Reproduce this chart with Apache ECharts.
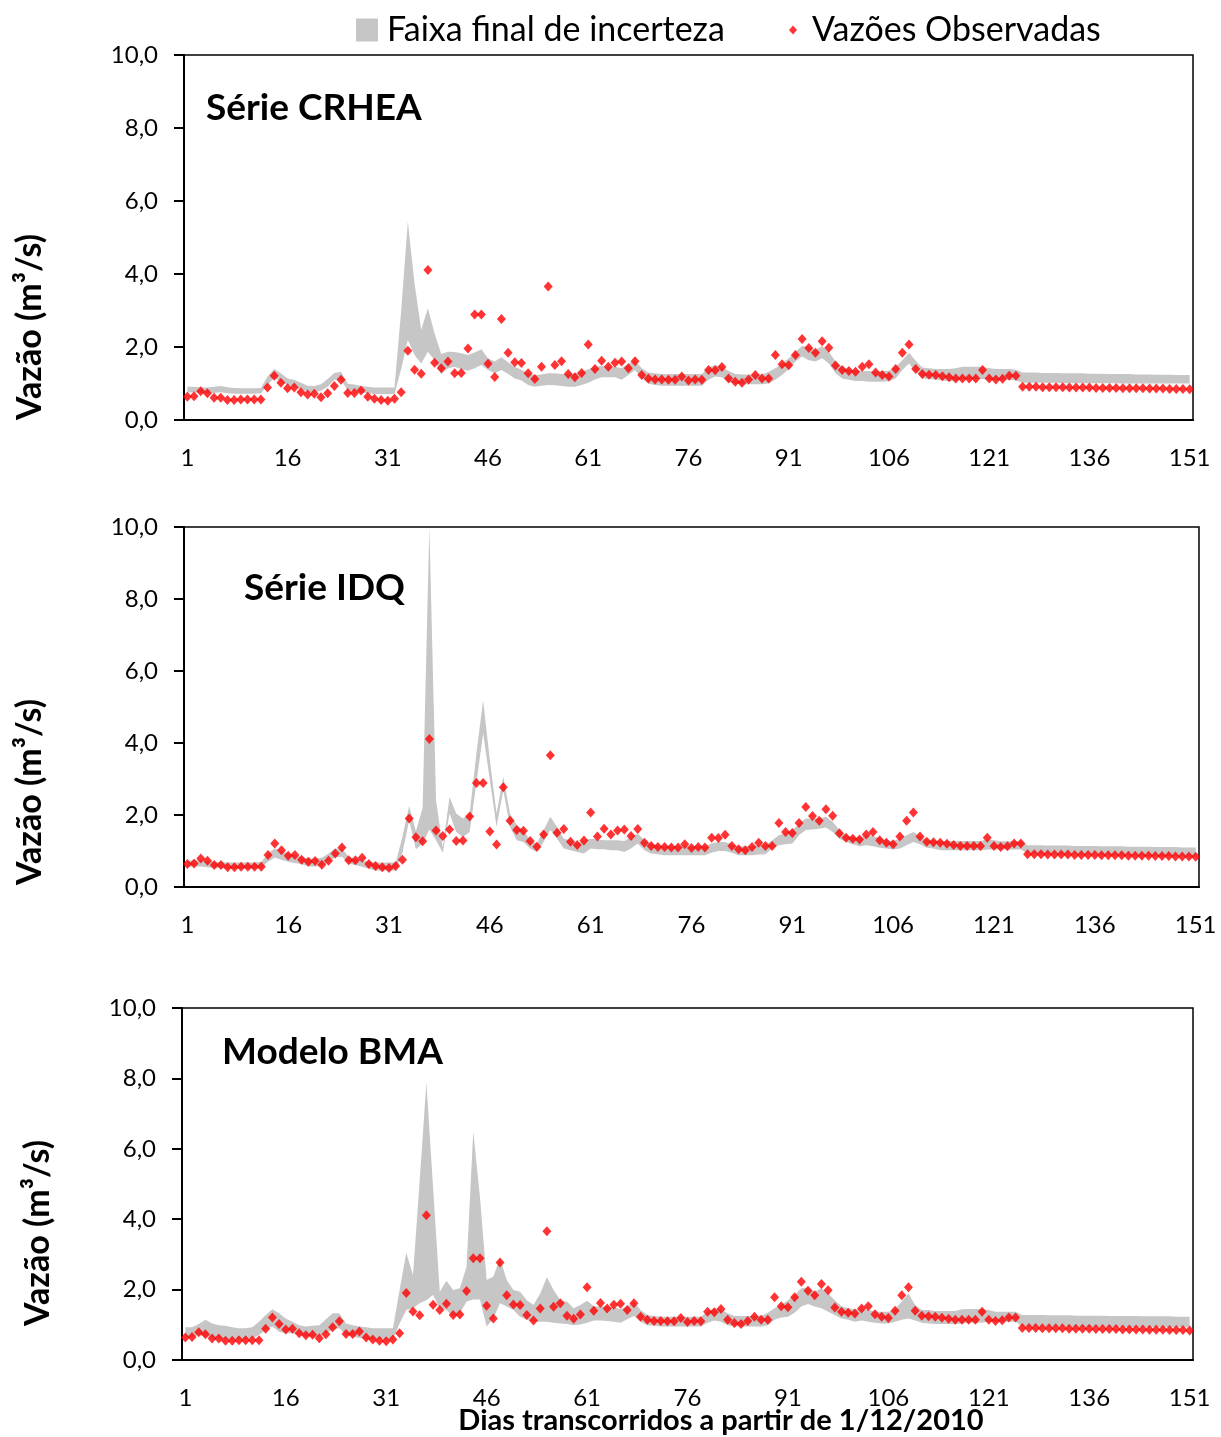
<!DOCTYPE html>
<html><head><meta charset="utf-8">
<script src="https://cdn.jsdelivr.net/npm/echarts@6/dist/echarts.min.js"></script>
<style>html,body{margin:0;padding:0;background:#fff}#c{width:1221px;height:1437px}</style>
</head><body><div id="c"></div>
<script>
// ---------- DATA ----------
const days = Array.from({length: 151}, (_, i) => String(i + 1));

const observed = [
0.64,0.65,0.79,0.73,0.61,0.61,0.55,0.55,0.56,0.56,
0.56,0.56,0.89,1.21,1.02,0.87,0.89,0.76,0.70,0.72,
0.62,0.73,0.93,1.10,0.74,0.74,0.81,0.64,0.58,0.55,
0.53,0.58,0.76,1.90,1.38,1.27,4.11,1.57,1.42,1.60,
1.28,1.29,1.96,2.89,2.89,1.54,1.18,2.77,1.84,1.58,
1.56,1.28,1.12,1.46,3.66,1.51,1.61,1.26,1.17,1.29,
2.07,1.40,1.62,1.46,1.57,1.60,1.42,1.61,1.23,1.14,
1.11,1.11,1.10,1.10,1.19,1.08,1.11,1.10,1.37,1.36,
1.45,1.14,1.05,1.02,1.11,1.23,1.14,1.14,1.78,1.53,
1.50,1.78,2.22,1.97,1.84,2.16,1.98,1.49,1.37,1.34,
1.32,1.46,1.53,1.30,1.23,1.19,1.40,1.84,2.07,1.40,
1.26,1.24,1.23,1.20,1.17,1.14,1.14,1.14,1.14,1.37,
1.14,1.11,1.13,1.21,1.21,0.91,0.91,0.91,0.90,0.90,
0.90,0.90,0.89,0.89,0.89,0.89,0.88,0.88,0.88,0.88,
0.87,0.87,0.87,0.87,0.86,0.86,0.86,0.85,0.85,0.85,0.84];

const crheaUpper = [
0.91,0.91,0.89,0.89,0.91,0.93,0.90,0.88,0.87,0.87,
0.87,0.88,1.19,1.40,1.28,1.14,1.10,1.02,0.94,0.93,
0.98,1.12,1.29,1.32,0.99,0.97,0.93,0.91,0.89,0.89,
0.89,0.89,3.00,5.43,3.74,2.47,3.06,2.37,1.81,1.87,
1.86,1.83,1.78,1.85,1.94,1.69,1.60,1.72,1.58,1.46,
1.38,1.28,1.23,1.25,1.28,1.28,1.26,1.25,1.28,1.32,
1.39,1.46,1.48,1.46,1.46,1.42,1.55,1.64,1.42,1.30,
1.28,1.26,1.26,1.26,1.26,1.26,1.26,1.26,1.44,1.51,
1.46,1.34,1.26,1.25,1.25,1.25,1.25,1.32,1.42,1.55,
1.69,1.87,2.03,2.01,1.92,2.03,1.86,1.61,1.46,1.39,
1.36,1.34,1.34,1.32,1.34,1.35,1.46,1.64,1.84,1.62,
1.44,1.42,1.40,1.40,1.40,1.42,1.46,1.46,1.46,1.46,
1.42,1.40,1.40,1.40,1.38,1.30,1.30,1.30,1.29,1.29,
1.29,1.28,1.28,1.28,1.28,1.27,1.27,1.27,1.26,1.26,
1.26,1.26,1.25,1.25,1.25,1.24,1.24,1.24,1.23,1.23,1.23];

const crheaLower = [
0.75,0.76,0.74,0.73,0.74,0.76,0.73,0.72,0.72,0.72,
0.72,0.73,0.96,1.16,1.05,0.96,0.91,0.84,0.78,0.75,
0.80,0.91,1.10,1.10,0.81,0.80,0.75,0.73,0.71,0.71,
0.71,0.71,1.40,2.19,1.78,1.55,1.87,1.64,1.26,1.42,
1.46,1.39,1.35,1.42,1.51,1.37,1.28,1.37,1.26,1.14,
1.08,0.96,0.91,0.94,0.96,0.95,0.93,0.91,0.91,0.96,
1.02,1.11,1.17,1.17,1.17,1.10,1.23,1.37,1.14,0.99,
0.96,0.94,0.94,0.94,0.94,0.94,0.94,0.94,1.10,1.19,
1.17,1.04,0.99,0.98,0.98,0.98,0.98,1.00,1.10,1.23,
1.39,1.60,1.74,1.64,1.60,1.69,1.55,1.28,1.14,1.10,
1.07,1.07,1.05,1.05,1.05,1.06,1.14,1.37,1.55,1.32,
1.14,1.12,1.10,1.08,1.07,1.07,1.12,1.12,1.12,1.12,
1.10,1.10,1.10,1.10,1.08,1.02,1.02,1.02,1.02,1.02,
1.02,1.01,1.01,1.01,1.01,1.01,1.01,1.01,1.01,1.01,
1.00,1.00,1.00,1.00,1.00,1.00,1.00,1.00,1.00,1.00,1.00];

const idqUpper = [
0.72,0.74,0.74,0.72,0.70,0.69,0.68,0.68,0.68,0.68,
0.68,0.70,0.93,1.07,1.00,0.93,0.88,0.84,0.79,0.79,
0.81,0.93,1.07,1.07,0.84,0.79,0.74,0.70,0.68,0.68,
0.68,0.68,1.40,2.25,1.55,2.20,10.0,2.40,1.10,2.50,
2.04,1.90,2.04,3.71,5.19,3.53,2.04,3.06,2.04,1.72,
1.58,1.30,1.21,1.58,1.95,1.67,1.34,1.30,1.21,1.30,
1.34,1.32,1.30,1.30,1.30,1.28,1.39,1.48,1.30,1.21,
1.16,1.13,1.13,1.13,1.13,1.13,1.13,1.13,1.21,1.25,
1.25,1.19,1.13,1.13,1.13,1.16,1.16,1.30,1.44,1.50,
1.58,1.76,1.90,1.90,1.90,1.95,1.81,1.58,1.44,1.39,
1.37,1.44,1.41,1.36,1.30,1.28,1.35,1.44,1.53,1.41,
1.32,1.30,1.28,1.28,1.28,1.28,1.28,1.28,1.28,1.32,
1.30,1.27,1.27,1.27,1.27,1.16,1.16,1.16,1.15,1.15,
1.15,1.15,1.14,1.14,1.14,1.14,1.13,1.13,1.13,1.13,
1.12,1.12,1.12,1.12,1.11,1.11,1.11,1.11,1.10,1.10,1.10];

const idqLower = [
0.55,0.57,0.57,0.55,0.53,0.52,0.51,0.51,0.51,0.51,
0.51,0.53,0.70,0.82,0.76,0.70,0.67,0.63,0.57,0.57,
0.59,0.70,0.82,0.84,0.65,0.61,0.56,0.51,0.46,0.46,
0.46,0.46,0.95,1.85,1.05,1.20,1.60,1.30,0.95,2.04,
1.53,1.39,1.53,2.88,4.27,2.97,1.67,2.69,1.67,1.30,
1.25,1.07,0.97,1.25,1.58,1.34,1.07,1.02,0.97,0.93,
1.07,1.05,1.05,1.02,1.02,0.97,1.07,1.21,1.02,0.93,
0.91,0.88,0.88,0.88,0.88,0.88,0.88,0.88,0.95,1.00,
1.00,0.95,0.88,0.88,0.88,0.90,0.91,1.07,1.16,1.19,
1.21,1.44,1.58,1.60,1.62,1.65,1.53,1.34,1.25,1.19,
1.13,1.16,1.13,1.09,1.07,1.04,1.07,1.16,1.25,1.19,
1.09,1.07,1.02,1.02,1.02,1.02,1.02,1.02,1.02,1.04,
1.04,1.04,1.04,1.04,1.04,0.93,0.93,0.92,0.92,0.92,
0.91,0.91,0.91,0.90,0.90,0.90,0.89,0.89,0.89,0.88,
0.88,0.88,0.87,0.87,0.87,0.86,0.86,0.86,0.86,0.85,0.85];

const bmaUpper = [
0.93,0.93,1.02,1.14,1.04,0.99,0.97,0.93,0.90,0.90,
0.93,1.09,1.28,1.44,1.33,1.18,1.09,0.99,0.95,0.97,
0.99,1.16,1.33,1.33,1.04,0.99,0.95,0.93,0.90,0.90,
0.90,0.90,1.99,3.05,2.41,5.10,7.88,4.90,1.94,2.25,
1.99,2.04,2.65,6.49,4.64,2.27,2.37,2.89,2.27,1.99,
1.94,1.70,1.56,1.89,2.35,1.99,1.70,1.66,1.47,1.56,
1.68,1.53,1.52,1.52,1.50,1.44,1.53,1.66,1.42,1.28,
1.25,1.23,1.23,1.23,1.23,1.23,1.23,1.23,1.37,1.47,
1.44,1.33,1.25,1.25,1.25,1.25,1.25,1.34,1.47,1.56,
1.70,1.85,2.04,2.06,1.94,2.04,1.89,1.70,1.53,1.47,
1.44,1.44,1.42,1.37,1.37,1.37,1.44,1.66,1.89,1.56,
1.42,1.42,1.39,1.39,1.39,1.39,1.44,1.45,1.45,1.45,
1.42,1.37,1.37,1.37,1.37,1.28,1.28,1.28,1.28,1.27,
1.27,1.27,1.27,1.26,1.26,1.26,1.26,1.26,1.25,1.25,
1.25,1.25,1.25,1.24,1.24,1.24,1.24,1.24,1.23,1.23,1.23];

const bmaLower = [
0.66,0.66,0.71,0.66,0.63,0.62,0.59,0.59,0.59,0.59,
0.62,0.71,0.85,0.95,0.80,0.76,0.76,0.71,0.66,0.66,
0.66,0.76,0.87,0.90,0.71,0.66,0.63,0.59,0.59,0.59,
0.59,0.59,1.04,1.42,1.47,1.61,1.70,1.85,1.47,1.42,
1.23,1.33,1.66,1.72,1.72,0.95,1.18,1.61,1.52,1.42,
1.23,1.14,1.09,1.09,1.09,1.06,1.04,1.02,0.99,1.01,
1.06,1.12,1.12,1.11,1.09,1.06,1.16,1.25,1.09,0.99,
0.97,0.95,0.95,0.95,0.95,0.95,0.95,0.95,1.06,1.12,
1.09,0.99,0.95,0.95,0.95,0.95,0.95,0.99,1.14,1.21,
1.23,1.34,1.52,1.59,1.52,1.47,1.37,1.28,1.18,1.14,
1.09,1.12,1.09,1.06,1.04,1.04,1.09,1.14,1.18,1.12,
1.06,1.04,1.02,1.02,1.02,1.02,1.04,1.06,1.06,1.06,
1.09,1.09,1.09,1.09,1.09,0.95,0.95,0.95,0.95,0.95,
0.95,0.95,0.94,0.94,0.94,0.94,0.94,0.94,0.94,0.94,
0.94,0.94,0.93,0.93,0.93,0.93,0.93,0.93,0.93,0.93,0.93];

const yMin = 0, yMax = 10, yStep = 2;
const panelTitles = ['Série CRHEA', 'Série IDQ', 'Modelo BMA'];
const yAxisTitle = 'Vazão (m³/s)';
const xAxisTitle = 'Dias transcorridos a partir de 1/12/2010';
const bandName = 'Faixa final de incerteza';
const obsName = 'Vazões Observadas';

// ---------- LAYOUT ----------
const FONT = 'Lato';
const GRAY = '#c6c6c6';
const RED = '#ff0000';
const bands = [[crheaLower, crheaUpper], [idqLower, idqUpper], [bmaLower, bmaUpper]];
const grids = [
  {left: 184, top: 55, width: 1009, height: 365},
  {left: 184, top: 527, width: 1015, height: 360},
  {left: 182, top: 1008, width: 1011, height: 352}
];
const titlePos = [[206, 108], [244, 588], [222, 1052]];
const yTitlePos = [[30, 327], [30, 792], [38, 1233]];

const xAxes = [], yAxes = [], series = [], graphics = [];
grids.forEach((g, i) => {
  xAxes.push({
    type: 'category', gridIndex: i, data: days, boundaryGap: true,
    axisLine: {lineStyle: {color: '#000', width: 2}},
    axisTick: {interval: 14, length: 8, lineStyle: {color: '#000', width: 2}},
    axisLabel: {interval: 14, color: '#000', fontSize: 24, fontFamily: FONT, margin: 26},
    splitLine: {show: false}
  });
  yAxes.push({
    type: 'value', gridIndex: i, min: yMin, max: yMax, interval: yStep,
    axisLine: {show: true, lineStyle: {color: '#000', width: 2}},
    axisTick: {show: true, length: 10, lineStyle: {color: '#000', width: 2}},
    axisLabel: {color: '#000', fontSize: 24, fontFamily: FONT, margin: 26,
      formatter: v => v.toFixed(1).replace('.', ',')},
    splitLine: {show: false}
  });
  const [lo, up] = bands[i];
  series.push({
    type: 'line', name: 'lower' + i, xAxisIndex: i, yAxisIndex: i, stack: 'band' + i,
    data: lo, symbol: 'none', lineStyle: {opacity: 0}, silent: true, z: 1
  });
  series.push({
    type: 'line', name: bandName, xAxisIndex: i, yAxisIndex: i, stack: 'band' + i,
    data: up.map((u, k) => +(u - lo[k]).toFixed(3)), symbol: 'none',
    lineStyle: {opacity: 0}, itemStyle: {color: GRAY},
    areaStyle: {color: GRAY, opacity: 1}, z: 2
  });
  series.push({
    type: 'scatter', name: obsName, xAxisIndex: i, yAxisIndex: i,
    data: observed, symbol: 'diamond', symbolSize: [9, 10],
    itemStyle: {color: RED}, z: 3
  });
  graphics.push({
    type: 'text', x: titlePos[i][0], y: titlePos[i][1],
    style: {text: panelTitles[i], font: 'bold 37px ' + FONT, fill: '#000', textVerticalAlign: 'middle'}
  });
  graphics.push({
    type: 'text', x: yTitlePos[i][0], y: yTitlePos[i][1], rotation: Math.PI / 2,
    style: {text: yAxisTitle, font: 'bold 34px ' + FONT, fill: '#000', textAlign: 'center', textVerticalAlign: 'middle'}
  });
});
graphics.push({
  type: 'text', x: 721, y: 1421,
  style: {text: xAxisTitle, font: 'bold 29px ' + FONT, fill: '#000', textAlign: 'center', textVerticalAlign: 'middle'}
});

const chart = echarts.init(document.getElementById('c'), null, {renderer: 'canvas'});
chart.setOption({
  animation: false,
  backgroundColor: '#fff',
  grid: grids.map(g => Object.assign({show: true, borderColor: '#000', borderWidth: 1.5, backgroundColor: 'transparent'}, g)),
  xAxis: xAxes,
  yAxis: yAxes,
  legend: [
    {data: [{name: bandName, icon: 'rect', itemStyle: {color: GRAY}}], left: 351, top: 8,
      itemWidth: 22, itemHeight: 23, selectedMode: false,
      textStyle: {fontSize: 34, fontFamily: FONT, color: '#000', padding: [0, 0, 0, 4]}},
    {data: [{name: obsName, icon: 'diamond', itemStyle: {color: RED}}], left: 784, top: 8,
      itemWidth: 8, itemHeight: 9, selectedMode: false,
      textStyle: {fontSize: 34, fontFamily: FONT, color: '#000', padding: [0, 0, 0, 10]}}
  ],
  graphic: graphics,
  series: series
});
</script></body></html>
